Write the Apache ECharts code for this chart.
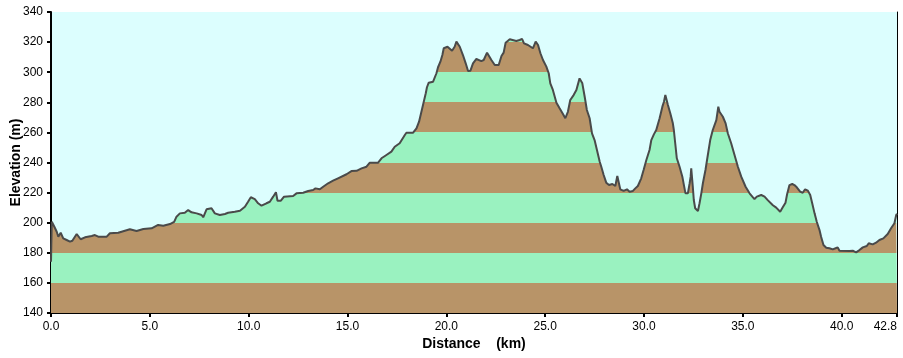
<!DOCTYPE html>
<html>
<head>
<meta charset="utf-8">
<script src="https://cdn.jsdelivr.net/npm/echarts@6/dist/echarts.min.js"></script>
<style>
html,body{margin:0;padding:0;background:#ffffff;}
#chart{width:903px;height:358px;}
</style>
</head>
<body>
<div id="chart"></div>
<script>
const distanceKm = [0, 0.04, 0.17, 0.29, 0.37, 0.49, 0.62, 0.79, 0.96, 1.08, 1.30, 1.50, 1.72, 2.06, 2.22, 2.39, 2.82, 2.98, 3.40, 3.57, 3.99, 4.33, 4.67, 5.09, 5.42, 5.68, 6.02, 6.23, 6.35, 6.52, 6.77, 6.94, 7.11, 7.37, 7.62, 7.70, 7.87, 8.12, 8.29, 8.54, 8.80, 8.96, 9.30, 9.56, 9.81, 9.97, 10.11, 10.31, 10.48, 10.65, 10.90, 11.07, 11.24, 11.38, 11.46, 11.63, 11.79, 12.25, 12.42, 12.76, 13.01, 13.26, 13.38, 13.60, 13.77, 14.02, 14.27, 14.52, 14.95, 15.20, 15.46, 15.71, 15.96, 16.13, 16.55, 16.72, 16.97, 17.22, 17.39, 17.64, 17.90, 17.98, 18.32, 18.49, 18.62, 18.82, 18.96, 19.02, 19.11, 19.33, 19.50, 19.58, 19.70, 19.80, 19.87, 20.06, 20.29, 20.42, 20.51, 20.68, 20.84, 20.98, 21.10, 21.22, 21.35, 21.52, 21.77, 21.89, 22.06, 22.28, 22.45, 22.65, 22.79, 22.90, 23.00, 23.21, 23.54, 23.71, 23.83, 23.93, 24.13, 24.38, 24.52, 24.64, 24.76, 24.89, 25.06, 25.18, 25.26, 25.39, 25.57, 25.73, 25.90, 26.02, 26.15, 26.27, 26.44, 26.58, 26.74, 26.88, 27.00, 27.11, 27.25, 27.37, 27.50, 27.62, 27.76, 27.84, 27.96, 28.09, 28.23, 28.40, 28.55, 28.65, 28.73, 28.80, 28.97, 29.14, 29.27, 29.44, 29.56, 29.69, 29.86, 29.98, 30.12, 30.28, 30.37, 30.50, 30.62, 30.79, 30.93, 31.01, 31.08, 31.13, 31.21, 31.33, 31.46, 31.51, 31.58, 31.66, 31.80, 31.94, 32.05, 32.10, 32.22, 32.31, 32.36, 32.39, 32.44, 32.47, 32.52, 32.59, 32.73, 32.81, 32.90, 32.98, 33.11, 33.23, 33.35, 33.48, 33.66, 33.76, 33.82, 33.99, 34.13, 34.24, 34.41, 34.58, 34.75, 34.92, 35.14, 35.34, 35.48, 35.59, 35.71, 35.93, 36.10, 36.26, 36.52, 36.69, 36.89, 37.02, 37.16, 37.24, 37.36, 37.50, 37.61, 37.73, 37.90, 38.03, 38.15, 38.29, 38.41, 38.51, 38.63, 38.74, 38.88, 38.96, 39.08, 39.22, 39.38, 39.55, 39.69, 39.80, 39.89, 40.39, 40.56, 40.73, 40.90, 41.07, 41.27, 41.37, 41.57, 41.74, 41.91, 42.11, 42.33, 42.50, 42.67, 42.76, 42.80];

const elevationM = [174, 200.6, 197.3, 194.0, 190.7, 193.3, 189.6, 188.5, 187.4, 188.0, 192.5, 189.0, 190.3, 191.2, 191.8, 190.7, 190.7, 193.0, 193.3, 194.0, 195.6, 194.5, 195.8, 196.3, 198.5, 198.0, 199.1, 200.6, 204.0, 206.2, 206.6, 208.4, 206.9, 206.2, 205.1, 203.6, 208.9, 209.6, 206.2, 205.1, 205.8, 206.6, 207.3, 208.0, 210.6, 213.9, 216.9, 215.7, 212.9, 211.3, 212.9, 213.9, 217.3, 220.2, 214.6, 214.6, 217.3, 217.7, 219.5, 219.9, 221.1, 221.7, 222.8, 222.2, 223.9, 226.2, 227.9, 229.5, 232.2, 234.3, 234.5, 236.1, 237.2, 239.9, 239.9, 242.8, 245.0, 247.2, 250.5, 252.8, 258.3, 259.8, 259.8, 262.7, 267.1, 278.2, 286.0, 290.0, 293.0, 293.7, 299.3, 303.3, 307.0, 311.4, 315.9, 316.9, 314.3, 316.9, 320.3, 316.9, 311.4, 305.9, 300.8, 301.0, 305.9, 308.8, 307.4, 308.1, 313.0, 308.1, 304.8, 304.8, 310.8, 313.0, 319.6, 321.9, 320.7, 321.4, 322.1, 319.2, 318.1, 315.9, 320.3, 318.1, 312.6, 308.1, 303.7, 299.3, 292.6, 288.2, 279.7, 276.0, 272.2, 269.4, 273.7, 281.5, 284.8, 288.2, 295.9, 292.6, 283.7, 274.9, 269.4, 259.4, 254.9, 248.3, 240.5, 237.2, 231.7, 226.6, 225.0, 225.7, 224.4, 231.0, 230.6, 222.2, 221.1, 222.2, 220.6, 221.1, 222.8, 224.4, 229.5, 235.0, 241.7, 248.3, 254.9, 258.7, 261.6, 269.4, 277.1, 280.4, 284.8, 283.7, 278.2, 272.7, 266.0, 261.6, 252.8, 242.8, 237.2, 230.6, 222.8, 219.5, 219.5, 226.2, 230.6, 236.1, 235.5, 223.9, 215.1, 209.6, 207.8, 212.9, 219.5, 226.2, 235.0, 245.0, 254.9, 261.6, 268.2, 277.1, 273.7, 270.4, 266.0, 259.4, 252.8, 245.0, 237.2, 230.6, 223.9, 219.5, 217.3, 215.7, 217.3, 218.4, 217.3, 215.0, 211.6, 210.0, 207.3, 210.2, 213.3, 218.9, 225.0, 225.7, 225.0, 223.5, 220.6, 219.9, 222.2, 221.3, 218.4, 212.9, 206.2, 200.6, 195.1, 190.7, 185.2, 183.4, 183.0, 182.3, 183.0, 183.6, 181.4, 181.2, 181.4, 180.3, 181.8, 183.6, 184.5, 186.3, 185.6, 186.7, 188.5, 189.6, 192.5, 196.3, 199.6, 205.1, 206.0];

const xTickValues = [0, 5, 10, 15, 20, 25, 30, 35, 40, 42.8];
const yTickValues = [140, 160, 180, 200, 220, 240, 260, 280, 300, 320, 340];
const bandEdges = [140, 160, 180, 200, 220, 240, 260, 280, 300, 320, 340];

const BROWN = '#b89468';
const GREEN = '#9af2c0';
const FONT = '"Liberation Sans", Arial, sans-serif';

const seriesData = distanceKm.map((d, i) => [d, elevationM[i]]);
const pieces = [];
for (let i = 0; i < bandEdges.length - 1; i++) {
  pieces.push({ gte: bandEdges[i], lt: bandEdges[i + 1], color: i % 2 === 0 ? BROWN : GREEN });
}

const chart = echarts.init(document.getElementById('chart'), null, { renderer: 'canvas' });
chart.setOption({
  animation: false,
  backgroundColor: '#ffffff',
  grid: { left: 51, right: 6, top: 12, bottom: 45, show: true, backgroundColor: '#dcfefe', borderWidth: 0,
    containLabel: false, outerBoundsMode: 'none' },
  visualMap: { show: false, type: 'piecewise', dimension: 1, seriesIndex: 0, pieces: pieces, outOfRange: { color: BROWN } },
  xAxis: {
    type: 'value', min: 0, max: 42.8,
    name: 'Distance    (km)', nameLocation: 'middle', nameGap: 24, nameMoveOverlap: false,
    nameTextStyle: { fontFamily: FONT, fontSize: 14, fontWeight: 'bold', color: '#000' },
    axisLine: { show: true, onZero: false, lineStyle: { color: '#000', width: 2 } },
    axisTick: { show: true, length: 4, lineStyle: { color: '#000', width: 2 }, customValues: xTickValues },
    axisLabel: { margin: 8, fontFamily: FONT, fontSize: 12, color: '#000', customValues: xTickValues,
      alignMaxLabel: 'right', formatter: v => v.toFixed(1) },
    splitLine: { show: false }
  },
  yAxis: [{
    type: 'value', min: 140, max: 340, interval: 20,
    name: 'Elevation (m)', nameLocation: 'middle', nameGap: 28, nameRotate: 90, nameMoveOverlap: false,
    nameTextStyle: { fontFamily: FONT, fontSize: 14, fontWeight: 'bold', color: '#000' },
    axisLine: { show: true, lineStyle: { color: '#000', width: 2 } },
    axisTick: { show: true, length: 4, lineStyle: { color: '#000', width: 2 }, customValues: yTickValues },
    axisLabel: { margin: 8, fontFamily: FONT, fontSize: 12, color: '#000', customValues: yTickValues },
    splitLine: { show: false }
  }, {
    type: 'value', min: 140, max: 340, position: 'right',
    axisLine: { show: true, lineStyle: { color: '#000', width: 1 } },
    axisTick: { show: false }, axisLabel: { show: false }, splitLine: { show: false }
  }],
  series: [{
    type: 'line',
    data: seriesData,
    showSymbol: false,
    symbol: 'none',
    lineStyle: { color: '#4a4a4a', width: 2 },
    areaStyle: { opacity: 1 },
    z: 2
  }]
});
</script>
</body>
</html>
